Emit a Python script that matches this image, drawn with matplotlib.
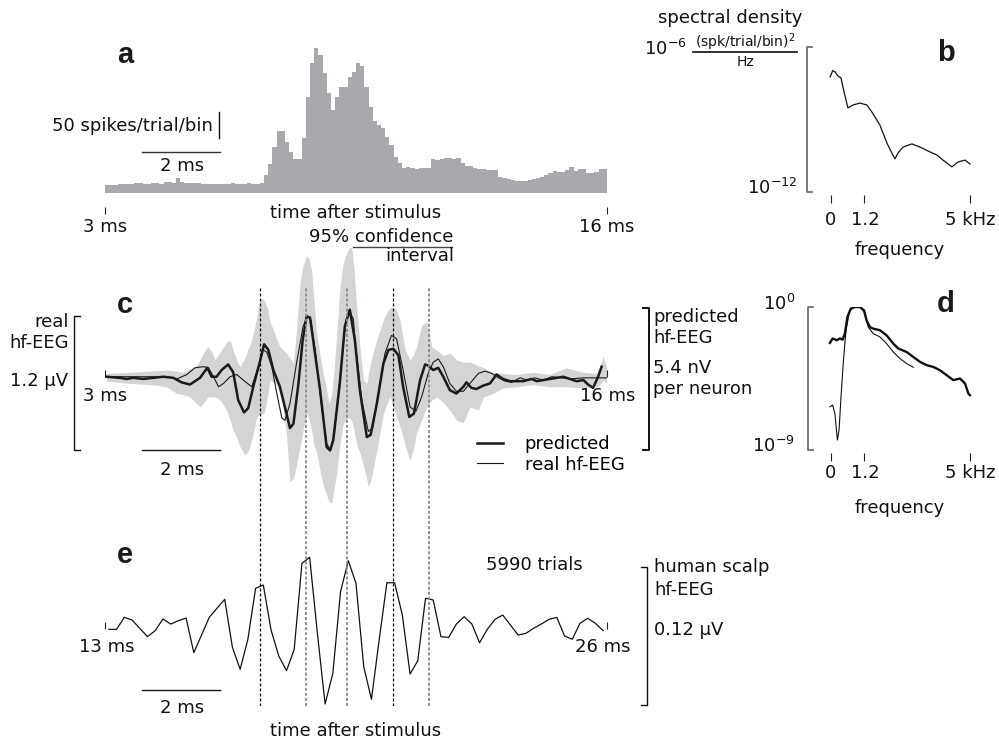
import numpy as np
import matplotlib
matplotlib.use("Agg")
import matplotlib.pyplot as plt
from matplotlib.lines import Line2D

W, H = 999, 744

# ---------------- data ----------------
# (a) PSTH, spikes/trial/bin, 120 bins between 3 and 16 ms
psth_counts = [14, 15, 15, 16, 16, 17, 16, 19, 18, 17, 17, 19, 18, 17, 21, 20, 18, 28, 20, 19,
               19, 18, 18, 17, 17, 17, 16, 16, 16, 17, 19, 16, 17, 16, 18, 17, 16, 18,
               34, 55, 88, 119, 119, 98, 79, 65, 64, 105, 185, 249, 278, 265, 230, 192, 159,
               184, 204, 204, 223,
               233, 249, 244, 204, 165, 137, 130, 124, 108, 92, 69, 58, 47, 49, 47, 45, 47, 47,
               47, 64, 62, 64, 67, 67, 64, 66, 58, 51, 51, 48, 45, 45, 43, 43, 43, 31, 29, 27,
               24, 23, 22, 23, 24, 26, 28, 31, 34, 37, 42, 40, 40, 44, 49, 42, 45, 45, 37, 37,
               39, 45, 45]
psth_edges = np.linspace(3, 16, len(psth_counts) + 1)

# (b) spectral density of the PSTH (log10)
b_freq = [-0.03, 0.06, 0.14, 0.25, 0.36, 0.47, 0.61, 0.79, 1.04, 1.29, 1.47, 1.65, 1.76, 2.01,
          2.19, 2.30, 2.41, 2.59, 2.91, 3.20, 3.56, 3.81, 4.03, 4.35, 4.57, 4.82, 5.00]
b_logpsd = [-7.24, -6.98, -7.02, -7.20, -7.28, -7.86, -8.52, -8.40, -8.32, -8.40, -8.69, -9.02,
            -9.23, -9.97, -10.39, -10.63, -10.39, -10.14, -10.01, -10.14, -10.34, -10.47,
            -10.68, -10.96, -10.76, -10.68, -10.84]

# (c) predicted and real hf-EEG, uV
pred_t = [3.04, 3.39, 3.56, 3.73, 3.99, 4.25, 4.51, 4.77, 4.98, 5.20, 5.33, 5.46, 5.65, 5.76,
          5.89, 6.02, 6.19, 6.32, 6.45, 6.60, 6.71, 6.84, 7.00, 7.12, 7.23, 7.36, 7.53, 7.70,
          7.79, 7.88, 8.01, 8.12, 8.22, 8.31, 8.39, 8.57, 8.74, 8.83, 8.91, 9.08, 9.21, 9.34,
          9.47, 9.60, 9.78, 9.88, 10.04, 10.21, 10.34, 10.47, 10.60, 10.72, 10.88, 11.00,
          11.16, 11.29, 11.37, 11.50, 11.63, 11.76, 11.93, 12.10, 12.28, 12.36, 12.49, 12.62,
          12.79, 12.97, 13.14, 13.31, 13.49, 13.66, 13.83, 14.05, 14.18, 14.35, 14.52, 14.70,
          14.87, 15.04, 15.21, 15.39, 15.51, 15.64, 15.77, 15.86]
pred_v = [0.00, -0.01, -0.02, -0.01, -0.02, -0.01, 0.00, -0.01, -0.05, -0.07, -0.04, -0.01,
          0.08, 0.00, 0.00, 0.06, 0.11, 0.04, -0.21, -0.32, -0.28, -0.09, 0.12, 0.29, 0.24,
          0.06, -0.09, -0.33, -0.46, -0.42, -0.06, 0.33, 0.54, 0.53, 0.33, -0.12, -0.63, -0.66,
          -0.57, -0.06, 0.45, 0.60, 0.33, -0.12, -0.54, -0.52, -0.24, 0.12, 0.24, 0.25, 0.19,
          -0.09, -0.36, -0.33, -0.03, 0.11, 0.10, 0.06, 0.08, 0.00, -0.12, -0.15, -0.09, -0.05,
          -0.10, -0.11, -0.08, -0.06, 0.02, -0.02, -0.04, -0.04, -0.04, -0.02, -0.04, -0.03,
          -0.02, -0.01, 0.00, -0.02, -0.04, -0.03, -0.07, -0.10, 0.00, 0.09]

real_t = [3.04, 3.73, 4.25, 4.60, 4.86, 5.12, 5.33, 5.55, 5.68, 5.81, 5.94, 6.07, 6.24, 6.41,
          6.58, 6.80, 6.97, 7.10, 7.19, 7.32, 7.45, 7.58, 7.66, 7.79, 7.96, 8.13, 8.24, 8.33,
          8.44, 8.61, 8.74, 8.83, 8.94, 9.08, 9.24, 9.33, 9.43, 9.48, 9.65, 9.82, 9.93, 10.08,
          10.25, 10.42, 10.55, 10.72, 10.90, 11.05, 11.20, 11.37, 11.50, 11.63, 11.76, 11.93,
          12.10, 12.28, 12.45, 12.67, 12.84, 13.01, 13.19, 13.36, 13.53, 13.75, 13.92, 14.13,
          14.35, 14.57, 14.83, 15.04, 15.39, 15.73, 15.99]
real_v = [0.00, 0.00, 0.00, 0.00, -0.02, 0.02, 0.08, 0.09, 0.08, 0.00, -0.09, -0.06, 0.00,
          0.02, -0.03, -0.09, 0.09, 0.24, 0.22, 0.09, -0.15, -0.37, -0.39, -0.24, 0.12, 0.45,
          0.54, 0.51, 0.24, -0.27, -0.60, -0.65, -0.51, -0.03, 0.51, 0.58, 0.52, 0.30, -0.21,
          -0.49, -0.46, -0.15, 0.21, 0.37, 0.34, 0.06, -0.27, -0.31, -0.18, 0.03, 0.13, 0.16,
          0.09, -0.06, -0.13, -0.13, -0.06, 0.03, 0.05, 0.03, -0.01, -0.04, -0.05, -0.01,
          -0.03, -0.01, -0.03, 0.00, -0.01, -0.02, -0.01, -0.01, -0.01]

ci_t = [3.04, 3.65, 4.17, 4.60, 4.86, 5.02, 5.20, 5.37, 5.46, 5.56, 5.67, 5.77, 5.85, 5.98,
        6.15, 6.24, 6.32, 6.41, 6.50, 6.63, 6.70, 6.80, 6.93, 7.01, 7.12, 7.22, 7.27, 7.36,
        7.45, 7.53, 7.62, 7.70, 7.79, 7.88, 7.96, 8.05, 8.13, 8.22, 8.28, 8.35, 8.41, 8.48,
        8.57, 8.65, 8.74, 8.80, 8.87, 8.93, 9.01, 9.08, 9.16, 9.26, 9.32, 9.39, 9.45, 9.52,
        9.60, 9.69, 9.78, 9.82, 9.89, 10.04, 10.21, 10.29, 10.38, 10.45, 10.53, 10.64, 10.77,
        10.90, 10.98, 11.07, 11.20, 11.33, 11.46, 11.59, 11.76, 11.93, 12.11, 12.28, 12.45,
        12.67, 12.80, 13.05, 13.31, 13.66, 14.09, 14.52, 14.95, 15.38, 15.73, 15.82, 15.90,
        15.99]
ci_hi = [0.03, 0.04, 0.05, 0.06, 0.05, 0.04, 0.07, 0.10, 0.15, 0.22, 0.27, 0.22, 0.15, 0.22,
         0.31, 0.33, 0.24, 0.15, 0.09, 0.17, 0.24, 0.33, 0.53, 0.70, 0.69, 0.60, 0.49, 0.42,
         0.33, 0.27, 0.24, 0.21, 0.17, 0.12, 0.42, 0.84, 1.00, 1.08, 1.06, 0.96, 0.69, 0.39,
         0.19, 0.03, -0.12, -0.24, -0.16, 0.06, 0.42, 0.78, 1.00, 1.11, 1.15, 1.16, 0.96, 0.62,
         0.28, -0.03, -0.06, 0.02, 0.15, 0.33, 0.51, 0.57, 0.62, 0.62, 0.61, 0.51, 0.24, 0.15,
         0.19, 0.27, 0.46, 0.49, 0.27, 0.24, 0.19, 0.21, 0.15, 0.13, 0.13, 0.10, 0.08, 0.04,
         0.03, 0.02, 0.04, 0.02, 0.08, 0.04, 0.03, 0.10, 0.18, 0.09]
ci_lo = [-0.04, -0.06, -0.07, -0.09, -0.15, -0.16, -0.18, -0.24, -0.27, -0.23, -0.18, -0.18,
         -0.18, -0.21, -0.30, -0.39, -0.48, -0.54, -0.63, -0.70, -0.67, -0.57, -0.36, -0.33,
         -0.33, -0.16, -0.03, -0.05, -0.07, -0.16, -0.30, -0.52, -0.94, -0.91, -0.79, -0.63,
         -0.48, -0.33, -0.37, -0.48, -0.61, -0.68, -0.84, -0.97, -1.06, -1.12, -1.13, -1.01,
         -0.84, -0.61, -0.43, -0.37, -0.37, -0.39, -0.48, -0.61, -0.68, -0.79, -0.92, -0.99,
         -0.92, -0.66, -0.33, -0.25, -0.18, -0.25, -0.34, -0.45, -0.61, -0.75, -0.66, -0.50,
         -0.39, -0.27, -0.21, -0.18, -0.23, -0.30, -0.39, -0.41, -0.27, -0.30, -0.18, -0.15,
         -0.10, -0.09, -0.07, -0.09, -0.09, -0.10, -0.09, -0.07, -0.03, -0.05]

# (d) normalised spectra (log10)
d_freq_pred = [-0.04, 0.06, 0.21, 0.32, 0.42, 0.50, 0.59, 0.71, 0.86, 1.04, 1.19, 1.28, 1.40,
               1.52, 1.76, 2.00, 2.24, 2.42, 2.72, 2.96, 3.20, 3.44, 3.68, 3.92, 4.16, 4.40,
               4.64, 4.82, 4.94, 5.00]
d_log_pred = [-2.26, -1.98, -2.09, -1.98, -2.05, -1.67, -0.63, -0.10, 0.0, 0.0, -0.21, -0.84,
              -1.26, -1.36, -1.46, -1.78, -2.30, -2.61, -2.83, -3.14, -3.45, -3.66, -3.77,
              -3.98, -4.29, -4.60, -4.50, -4.81, -5.44, -5.55]
d_freq_real = [-0.04, 0.06, 0.14, 0.23, 0.29, 0.36, 0.44, 0.54, 0.66, 0.80, 1.04, 1.19, 1.34,
               1.52, 1.76, 2.00, 2.24, 2.48, 2.72, 2.96]
d_log_real = [-6.28, -6.17, -6.70, -8.37, -7.75, -5.65, -3.56, -1.46, -0.31, 0.0, 0.0, -0.31,
              -1.26, -1.67, -1.88, -2.30, -2.83, -3.24, -3.56, -3.79]

# (e) human scalp hf-EEG, nV, sampled every 0.2 ms
e_time = [13.1, 13.3, 13.5, 13.7, 13.9, 14.1, 14.3, 14.5, 14.7, 14.9, 15.1, 15.3, 15.5, 15.7,
          15.9, 16.1, 16.3, 16.5, 16.7, 16.9, 17.1, 17.3, 17.5, 17.7, 17.9, 18.1, 18.3, 18.5,
          18.7, 18.9, 19.1, 19.3, 19.5, 19.7, 19.9, 20.1, 20.3, 20.5, 20.7, 20.9, 21.1, 21.3,
          21.5, 21.7, 21.9, 22.1, 22.3, 22.5, 22.7, 22.9, 23.1, 23.3, 23.5, 23.7, 23.9, 24.1,
          24.3, 24.5, 24.7, 24.9, 25.1, 25.3, 25.5, 25.7, 25.9]
e_nv = [0, 0, 10.4, 8.1, 0.9, -6.4, -1.2, 9.0, 4.6, 7.5, 9.8, -20.3, -5.0, 10.4, 18.3, 26.1,
        -15.7, -34.8, -8.7, 35.7, 38.5, -0.6, -23.2, -36.0, -17.4, 57.4, 62.6, -3.5, -65.0,
        -38.3, 32.7, 59.7, 40.0, -32.5, -60.9, -9.3, 40.5, 40.5, 12.4, -38.9, -27.3, 27.0,
        25.5, -6.4, -7.0, 4.6, 11.0, 4.6, -11.7, 0, 8.7, 12.4, 3.7, -5.0, -3.5, 0.9, 4.6, 8.7,
        10.4, -5.8, -8.7, 5.2, 9.6, 5.2, -1.2]

# peaks marked across (c) and (e)
dash_black = [7.01, 10.45]
dash_gray = [8.20, 9.26, 11.40]

# ---------------- figure ----------------
fig = plt.figure(figsize=(W / 100, H / 100), dpi=100)


def box(x0, y0, x1, y1):
    return [x0 / W, 1 - y1 / H, (x1 - x0) / W, (y1 - y0) / H]


def txt(x, y, s, ha="center", size=13, **kw):
    fig.text(x / W, 1 - y / H, s, ha=ha, va="center", fontsize=size, color="#111", **kw)


def letter(x, y, s):
    fig.text(x / W, 1 - y / H, s, ha="center", va="center", fontsize=21,
             fontweight="bold", family="Liberation Sans", color="#1a1a1a")


def bare(ax):
    for s in ax.spines.values():
        s.set_visible(False)
    ax.set_yticks([])
    ax.tick_params(axis="y", which="both", left=False, labelleft=False)
    ax.patch.set_visible(False)


# ---- a ----
ax_a = fig.add_axes(box(105, 40, 607, 192.7))
ax_a.stairs(psth_counts, psth_edges, fill=True, color="#a8a9ac", lw=0)
ax_a.set_xlim(3, 16)
ax_a.set_ylim(0, 293.7)
bare(ax_a)
ax_a.spines["bottom"].set_position(("outward", 10))
ax_a.set_xticks([3, 16])
ax_a.set_xticklabels([])
ax_a.tick_params(axis="x", direction="out", length=5, width=0.8, color="#222")
ax_a.plot([5.95, 5.95], [105, 155], color="#111", lw=1, clip_on=False)
ax_a.plot([3.97, 5.99], [78, 78], color="#333", lw=1)
letter(125, 55, "a")
txt(213, 126, "50 spikes/trial/bin", ha="right")
txt(182, 166, "2 ms")
txt(356, 213, "time after stimulus")
txt(105, 227, "3 ms")
txt(607, 227, "16 ms")

# ---- b ----
ax_b = fig.add_axes(box(807, 47, 980, 192))
ax_b.plot(b_freq, 10 ** np.array(b_logpsd), color="#111", lw=0.9)
ax_b.set_yscale("log")
ax_b.set_ylim(1e-12, 1e-6)
ax_b.set_xlim(-0.863, 5.36)
bare(ax_b)
ax_b.spines["bottom"].set_position(("outward", 2.2))
ax_b.set_xticks([0, 1.2, 5])
ax_b.set_xticklabels([])
ax_b.tick_params(axis="x", direction="out", length=5.5, width=0.8, color="#222")
ax_b.plot([0.03, 0, 0, 0.03], [1, 1, 0, 0], transform=ax_b.transAxes, color="#707070",
          lw=1.3, clip_on=False)
letter(946, 53, "b")
txt(730, 18, "spectral density")
txt(665, 49, "$10^{-6}$")
txt(745, 42, "(spk/trial/bin)$^2$", size=10)
txt(745, 62, "Hz", size=10)
fig.add_artist(Line2D([693 / W, 797 / W], [1 - 52 / H, 1 - 52 / H], color="#111", lw=1.2,
                      transform=fig.transFigure))
txt(797, 188, "$10^{-12}$", ha="right")
txt(831, 220, "0")
txt(865, 220, "1.2")
txt(970, 220, "5 kHz")
txt(900, 250, "frequency")

# ---- c ----
ax_c = fig.add_axes(box(105, 240, 607, 510))
ax_c.fill_between(ci_t, ci_lo, ci_hi, color="#d3d4d6", lw=0)
l_real, = ax_c.plot(real_t, real_v, color="#1a1a1a", lw=0.8)
l_pred, = ax_c.plot(pred_t, pred_v, color="#1a1a1a", lw=1.8)
ax_c.set_xlim(3, 16)
ax_c.set_ylim(-1.193, 1.224)
bare(ax_c)
ax_c.spines["bottom"].set_position(("data", 0))
ax_c.set_xticks([3, 16])
ax_c.set_xticklabels([])
ax_c.tick_params(axis="x", direction="in", length=5, width=0.8, color="#222")
ax_c.plot([2.36, 2.20, 2.20, 2.36], [0.543, 0.543, -0.656, -0.656], color="#111", lw=1,
          clip_on=False)
ax_c.plot([16.93, 17.09, 17.09, 16.93], [0.615, 0.615, -0.656, -0.656], color="#111", lw=1.4,
          clip_on=False)
ax_c.plot([3.97, 5.99], [-0.656, -0.656], color="#111", lw=1)
ax_c.legend([l_pred, l_real], ["predicted", "real hf-EEG"], loc="upper left",
            bbox_to_anchor=(477 / W, 1 - 435 / H), bbox_transform=fig.transFigure,
            frameon=False, fontsize=13, handlelength=1.45, handletextpad=1.2,
            borderpad=0, borderaxespad=0, labelspacing=0.15)
letter(125, 305, "c")
txt(453, 237, "95% confidence", ha="right")
txt(454, 256, "interval", ha="right")
fig.add_artist(Line2D([353 / W, 452 / W], [1 - 247 / H, 1 - 247 / H], color="#444", lw=1,
                      transform=fig.transFigure))
txt(69, 322, "real", ha="right")
txt(69, 343, "hf-EEG", ha="right")
txt(68, 381, "1.2 μV", ha="right")
txt(105, 396, "3 ms")
txt(608, 396, "16 ms")
txt(182, 470, "2 ms")
txt(653, 317, "predicted", ha="left")
txt(653, 338, "hf-EEG", ha="left")
txt(653, 368, "5.4 nV", ha="left")
txt(653, 389, "per neuron", ha="left")

# ---- d ----
ax_d = fig.add_axes(box(808, 306.7, 980, 450))
ax_d.plot(d_freq_real, 10 ** np.array(d_log_real), color="#111", lw=0.8)
ax_d.plot(d_freq_pred, 10 ** np.array(d_log_pred), color="#111", lw=1.7)
ax_d.set_yscale("log")
ax_d.set_ylim(1e-9, 1.05)
ax_d.set_xlim(-0.827, 5.36)
bare(ax_d)
ax_d.spines["bottom"].set_position(("outward", 2.2))
ax_d.set_xticks([0, 1.2, 5])
ax_d.set_xticklabels([])
ax_d.tick_params(axis="x", direction="out", length=5.5, width=0.8, color="#222")
ax_d.plot([0.03, 0, 0, 0.03], [1, 1, 0, 0], transform=ax_d.transAxes, color="#707070",
          lw=1.3, clip_on=False)
letter(946, 304, "d")
txt(795, 304, "$10^{0}$", ha="right")
txt(795, 446, "$10^{-9}$", ha="right")
txt(831, 473, "0")
txt(865, 473, "1.2")
txt(970, 473, "5 kHz")
txt(900, 508, "frequency")

# ---- e ----
ax_e = fig.add_axes(box(105, 540, 607, 720))
ax_e.plot(e_time, e_nv, color="#111", lw=0.9)
ax_e.set_xlim(13, 26)
ax_e.set_ylim(-78.9, 77.7)
bare(ax_e)
ax_e.spines["bottom"].set_position(("data", 0))
ax_e.set_xticks([13, 26])
ax_e.set_xticklabels([])
ax_e.tick_params(axis="x", direction="in", length=5, width=0.8, color="#222")
ax_e.plot([26.87, 27.03, 27.03, 26.87], [54.2, 54.2, -65.8, -65.8], color="#111", lw=1,
          clip_on=False)
ax_e.plot([13.97, 15.99], [-52.4, -52.4], color="#111", lw=1)
letter(125, 555, "e")
txt(107, 647, "13 ms")
txt(603, 647, "26 ms")
txt(182, 708, "2 ms")
txt(356, 731, "time after stimulus")
txt(534, 565, "5990 trials")
txt(654, 567, "human scalp", ha="left")
txt(654, 590, "hf-EEG", ha="left")
txt(654, 630, "0.12 μV", ha="left")

# ---- dashed markers through c and e ----
ax_dash = fig.add_axes(box(105, 288, 607, 706))
ax_dash.set_xlim(3, 16)
ax_dash.set_ylim(0, 1)
ax_dash.axis("off")
for t in dash_black:
    ax_dash.axvline(t, color="#111", lw=0.9, dashes=(2.4, 1.6))
for t in dash_gray:
    ax_dash.axvline(t, color="#8a8a8a", lw=1.3, dashes=(1.7, 1.1))

fig.savefig("out.png", dpi=100)
